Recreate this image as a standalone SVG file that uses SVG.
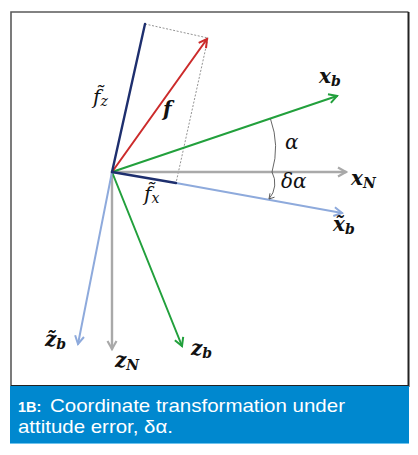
<svg xmlns="http://www.w3.org/2000/svg" width="418" height="455" viewBox="0 0 418 455">
<defs>
<style>
.ax{fill:none;stroke-linecap:round}
.g{stroke:#22a03c;stroke-width:2}
.n{stroke:#a9a9a9;stroke-width:2.4}
.lb{stroke:#8eaadc;stroke-width:2}
.r{stroke:#cc2b2b;stroke-width:2}
.nv{stroke:#1e2f6e;stroke-width:2.4}
.dash{fill:none;stroke:#777;stroke-width:0.8;stroke-dasharray:2 1.6}
.arc{fill:none;stroke:#555;stroke-width:0.9}
.lbl{font-family:"DejaVu Serif","Liberation Serif",serif;font-style:italic;fill:#111;font-size:20px}
.bi{font-weight:bold}
.sub{font-size:14px}
.cap{font-family:"Liberation Sans","Noto Sans",sans-serif;fill:#fff;font-size:18.5px}
</style>
<marker id="mg" markerUnits="userSpaceOnUse" markerWidth="14" markerHeight="14" refX="0" refY="0" viewBox="-10 -7 14 14" orient="auto"><path d="M-8,-4.5 L0,0 L-8,4.5" fill="none" stroke="#22a03c" stroke-width="2"/></marker>
<marker id="mn" markerUnits="userSpaceOnUse" markerWidth="14" markerHeight="14" refX="0" refY="0" viewBox="-10 -7 14 14" orient="auto"><path d="M-8,-4.5 L0,0 L-8,4.5" fill="none" stroke="#a9a9a9" stroke-width="2.2"/></marker>
<marker id="mlb" markerUnits="userSpaceOnUse" markerWidth="14" markerHeight="14" refX="0" refY="0" viewBox="-10 -7 14 14" orient="auto"><path d="M-8,-4.5 L0,0 L-8,4.5" fill="none" stroke="#8eaadc" stroke-width="2"/></marker>
<marker id="mr" markerUnits="userSpaceOnUse" markerWidth="14" markerHeight="14" refX="0" refY="0" viewBox="-10 -7 14 14" orient="auto"><path d="M-8,-4.5 L0,0 L-8,4.5" fill="none" stroke="#cc2b2b" stroke-width="2"/></marker>
<marker id="ma" markerUnits="userSpaceOnUse" markerWidth="10" markerHeight="10" refX="0" refY="0" viewBox="-6 -5 10 10" orient="auto"><path d="M-5,-3 L0,0 L-5,3" fill="none" stroke="#555" stroke-width="0.9"/></marker>
</defs>
<rect x="0" y="0" width="418" height="455" fill="#fff"/>
<g id="frame">
<rect x="11" y="12" width="397.5" height="374" fill="#fff" stroke="none"/>
<path d="M11,386 V12 H408.5" fill="none" stroke="#5a5a5a" stroke-width="1.6"/>
<path d="M408.5,12 V386 H11" fill="none" stroke="#222" stroke-width="2"/>
</g>
<g id="caption">
<rect x="10" y="386" width="399" height="57.5" fill="#0088cf"/>
<line x1="10" y1="443.5" x2="409" y2="443.5" stroke="#6fc3ec" stroke-width="1"/>
<text class="cap" x="18" y="412"><tspan font-size="14.5" font-weight="bold">1B:</tspan><tspan x="50" textLength="295" lengthAdjust="spacingAndGlyphs">Coordinate transformation under</tspan></text>
<text class="cap" x="18" y="433" textLength="155" lengthAdjust="spacingAndGlyphs">attitude error, δα.</text>
</g>
<g id="connectors">
<path class="dash" d="M145,24 L208,38 L176,183"/>
<line class="ax n" x1="112" y1="172" x2="346" y2="172" marker-end="url(#mn)"/>
<line class="ax n" x1="112" y1="172" x2="112" y2="349" marker-end="url(#mn)"/>
<line class="ax g" x1="112" y1="172" x2="337" y2="96" marker-end="url(#mg)"/>
<line class="ax g" x1="112" y1="172" x2="182" y2="346" marker-end="url(#mg)"/>
<line class="ax lb" x1="176" y1="183" x2="342" y2="213" marker-end="url(#mlb)"/>
<line class="ax lb" x1="112" y1="172" x2="78" y2="344" marker-end="url(#mlb)"/>
<line class="ax r" x1="112" y1="172" x2="207" y2="39" marker-end="url(#mr)"/>
<line class="ax nv" x1="112" y1="172" x2="145" y2="24"/>
<line class="ax nv" x1="112" y1="172" x2="176" y2="183"/>
<path class="arc" d="M270.5,119 A 85 85 0 0 1 272,172"/>
<path class="arc" d="M272,172 A 24 24 0 0 1 269,199" marker-end="url(#ma)"/>
</g>
<g id="labels">
<text class="lbl bi" x="319" y="83">x<tspan class="sub" dy="3">b</tspan></text>
<text class="lbl bi" x="351" y="185">x<tspan class="sub" dy="3">N</tspan></text>
<text class="lbl bi" x="333" y="231">x̃<tspan class="sub" dy="3">b</tspan></text>
<text class="lbl" x="285" y="149">α</text>
<text class="lbl" x="281" y="188">δα</text>
<text class="lbl bi" x="163" y="116">f</text>
<text class="lbl" x="93" y="104" font-size="21">f̃<tspan class="sub" dy="2">z</tspan></text>
<text class="lbl" x="144" y="201" font-size="21">f̃<tspan class="sub" dy="2">x</tspan></text>
<text class="lbl bi" x="45" y="346">z̃<tspan class="sub" dy="3">b</tspan></text>
<text class="lbl bi" x="115" y="367">z<tspan class="sub" dy="3">N</tspan></text>
<text class="lbl bi" x="191" y="355">z<tspan class="sub" dy="3">b</tspan></text>
</g>
</svg>
